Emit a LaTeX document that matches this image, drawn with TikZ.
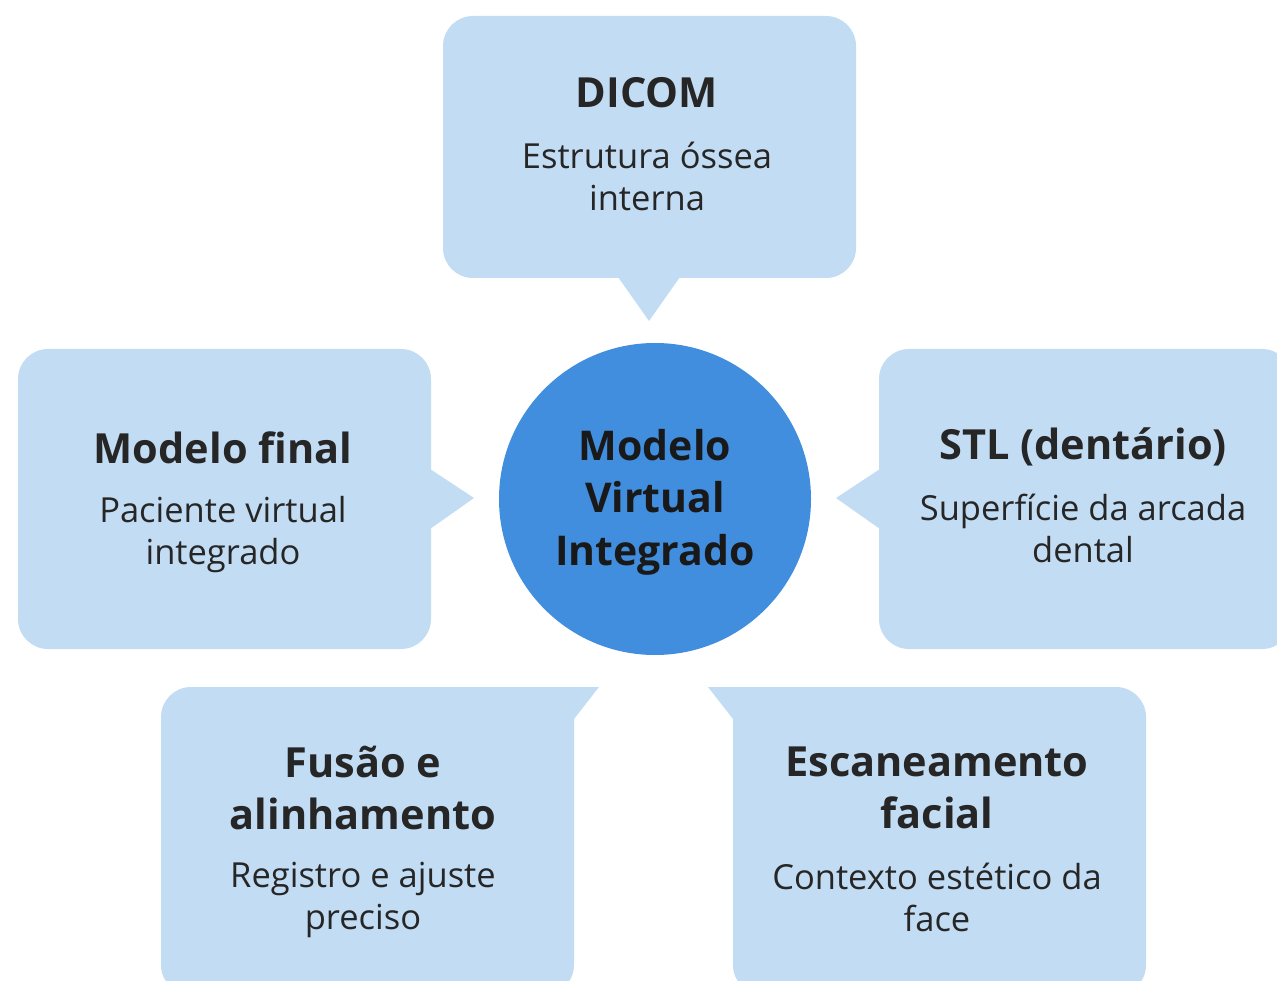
\documentclass[tikz,border=0pt]{standalone}
\usepackage{fontspec}
\setmainfont{Open Sans}
\usepackage{tikz}
\definecolor{boxblue}{HTML}{C2DCF4}
\definecolor{hubblue}{HTML}{418EDE}
\definecolor{inkgray}{HTML}{262626}

\begin{document}
\begin{tikzpicture}[x=1pt,y=-1pt,
  panel/.style={fill=boxblue,rounded corners=30pt},
  tip/.style={fill=boxblue},
  hub/.style={circle,fill=hubblue,minimum size=312pt,inner sep=0pt},
  hubtext/.style={font=\fontsize{41}{52.5}\selectfont\bfseries,text=black!90,align=center},
  head/.style={font=\fontsize{41.5}{52}\selectfont\bfseries,text=inkgray,align=center},
  sub/.style={font=\fontsize{34.5}{42}\selectfont,text=inkgray,align=center}]
\useasboundingbox (0,0) rectangle (1277,981);
\clip (0,0) rectangle (1277,981);
% top box
\fill[panel] (443,16) rectangle (856,278);
\fill[tip] (618,277) -- (680,277) -- (649,321) -- cycle;
% left box
\fill[panel] (18,349) rectangle (431,649);
\fill[tip] (430,469) -- (474,498) -- (430,529) -- cycle;
% right box
\fill[panel] (879,349) rectangle (1292,649);
\fill[tip] (880,469) -- (836,498) -- (880,529) -- cycle;
% bottom boxes
\fill[panel] (161,687) rectangle (574,995);
\fill[tip] (540,687) -- (599,687) -- (574,719) -- (540,719) -- cycle;
\fill[panel] (733,687) rectangle (1146,995);
\fill[tip] (767,687) -- (708,687) -- (733,719) -- (767,719) -- cycle;
% centre
\node[hub] (hub) at (655,499) {};
\node[hubtext] (hublabel) at (655,502) {Modelo\\Virtual\\Integrado};
% texts
\node[head] (dicom) at (647,93) {DICOM};
\node[sub] (dicomsub) at (647,176) {Estrutura óssea\\interna};
\node[head] (final) at (223,448) {Modelo final};
\node[sub] (finalsub) at (223,535) {Paciente virtual\\integrado};
\node[head] (stl) at (1083,447) {STL (dentário)};
\node[sub] (stlsub) at (1083,528) {Superfície da arcada\\dental};
\node[head] (fusao) at (363,788) {Fusão e\\alinhamento};
\node[sub] (fusaosub) at (363,900) {Registro e ajuste\\preciso};
\node[head] (facial) at (937,788) {Escaneamento\\facial};
\node[sub] (facialsub) at (937,897) {Contexto estético da\\face};
\end{tikzpicture}
\end{document}
